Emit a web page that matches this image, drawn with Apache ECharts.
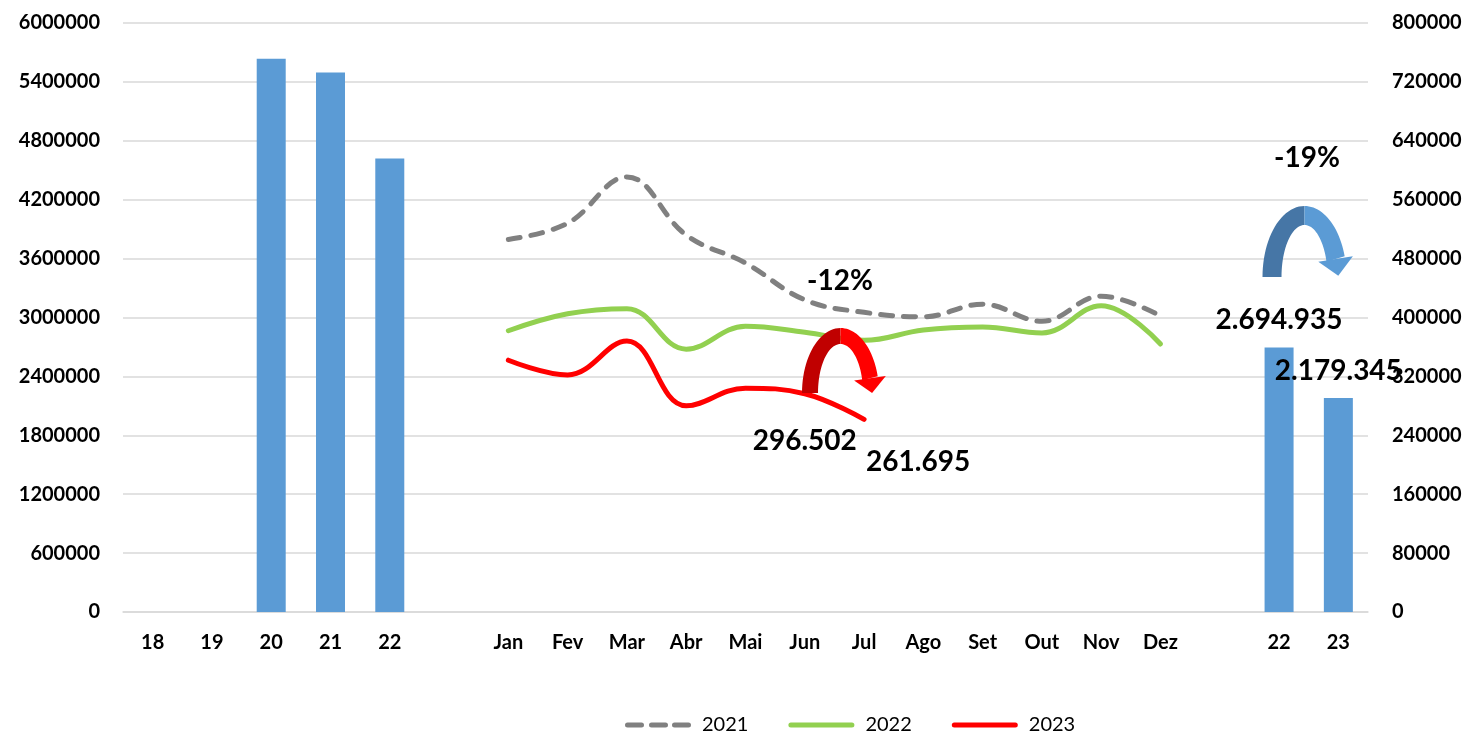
<!DOCTYPE html>
<html>
<head>
<meta charset="utf-8">
<title>Chart</title>
<script src="https://cdn.jsdelivr.net/npm/echarts@6/dist/echarts.min.js"></script>
<style>
  html, body { margin: 0; padding: 0; background: #fff; }
  #chart { width: 1470px; height: 735px; }
</style>
</head>
<body>
<div id="chart"></div>
<script>
// annual totals (left axis)
var yearCats = ['18', '19', '20', '21', '22'];
var yearTotals = [null, null, 5636000, 5495000, 4620000];

// monthly values (right axis)
var months = ['Jan', 'Fev', 'Mar', 'Abr', 'Mai', 'Jun', 'Jul', 'Ago', 'Set', 'Out', 'Nov', 'Dez'];
var s2021 = [506000, 528000, 591000, 512000, 474000, 424000, 407000, 401000, 418000, 395000, 429000, 402000];
var s2022 = [382000, 405000, 412000, 357000, 388000, 380000, 369000, 383000, 387000, 379000, 416000, 364000];
var s2023 = [342000, 322000, 368000, 280000, 304000, 296502, 261695];

// year-to-date comparison (left axis)
var compCats = ['22', '23'];
var compTotals = [2694935, 2179345];

var leftTicks = { min: 0, max: 6000000, interval: 600000 };
var rightTicks = { min: 0, max: 800000, interval: 80000 };

var FONT = 'Lato';
var dom = document.getElementById('chart');
var myChart = echarts.init(dom);

function fmtDots(v) {
    return String(v).replace(/\B(?=(\d{3})+(?!\d))/g, '.');
}
function plain(v) { return String(v); }

// category layout: years, gap, months, gap, comparison
var categories = yearCats.concat([''], months, [''], compCats);
var monthStart = yearCats.length + 1;
var compStart = monthStart + months.length + 1;

var barData = categories.map(function () { return null; });
yearTotals.forEach(function (v, i) { barData[i] = v; });
compTotals.forEach(function (v, i) {
    barData[compStart + i] = {
        value: v,
        label: {
            show: true, position: 'top', distance: 13,
            formatter: function (p) { return fmtDots(p.value); },
            fontFamily: FONT, fontWeight: 'bold', fontSize: 28, color: '#000'
        }
    };
});

function monthSeries(arr) {
    var out = categories.map(function () { return null; });
    arr.forEach(function (v, i) { out[monthStart + i] = v; });
    return out;
}

var line2023 = monthSeries(s2023);
var labelled = [[5, [0, 0], 33], [6, [54, 0], 28]];
labelled.forEach(function (l) {
    var idx = monthStart + l[0];
    line2023[idx] = {
        value: line2023[idx],
        symbol: 'circle', symbolSize: 1,
        label: {
            show: true, position: 'bottom', distance: l[2], offset: l[1],
            formatter: function (p) { return fmtDots(p.value); },
            fontFamily: FONT, fontWeight: 'bold', fontSize: 28, color: '#000'
        }
    };
});

// curved "drop" arrow built as polygons (two-tone body + head)
function arcArrow(cx, cy, rx, ry, hw, endDeg, headHw, headLen, dark, light) {
    function pt(t, dr) {
        var a = t * Math.PI / 180;
        return [cx + (rx + dr) * Math.cos(a), cy - (ry + dr) * Math.sin(a)];
    }
    function band(t0, t1) {
        var outer = [], inner = [], n = 24;
        for (var k = 0; k <= n; k++) {
            var t = t0 + (t1 - t0) * k / n;
            outer.push(pt(t, hw));
            inner.unshift(pt(t, -hw));
        }
        return outer.concat(inner);
    }
    var a = endDeg * Math.PI / 180;
    var dx = rx * Math.sin(a), dy = ry * Math.cos(a);
    var len = Math.sqrt(dx * dx + dy * dy);
    dx /= len; dy /= len;
    var b = pt(endDeg, 0);
    var head = [
        [b[0] - headHw * dy, b[1] + headHw * dx],
        [b[0] + headHw * dy, b[1] - headHw * dx],
        [b[0] + headLen * dx, b[1] + headLen * dy]
    ];
    return [
        { type: 'polygon', shape: { points: band(180, 90) }, style: { fill: dark }, z: 100 },
        { type: 'polygon', shape: { points: band(90, endDeg) }, style: { fill: light }, z: 100 },
        { type: 'polygon', shape: { points: head }, style: { fill: light }, z: 100 }
    ];
}

var graphics = []
    .concat(arcArrow(840.5, 393, 30.5, 57, 8, 15, 16, 15, '#C00000', '#FF0000'))
    .concat(arcArrow(1304.5, 277, 32.5, 61.5, 9.5, 17, 17.5, 17, '#4676A6', '#5B9BD5'))
    .concat([
        { type: 'text', x: 840, y: 281, z: 100,
          style: { text: '-12%', fontFamily: FONT, fontWeight: 'bold', fontSize: 28, fill: '#000',
                   textAlign: 'center', textVerticalAlign: 'middle' } },
        { type: 'text', x: 1307, y: 158, z: 100,
          style: { text: '-19%', fontFamily: FONT, fontWeight: 'bold', fontSize: 28, fill: '#000',
                   textAlign: 'center', textVerticalAlign: 'middle' } }
    ]);

var solidIcon = 'path://M2.5,0h61a2.5,2.5 0 0 1 0,5h-61a2.5,2.5 0 0 1 0,-5z';
var dashIcon = 'path://M2.5,0h14a2.5,2.5 0 0 1 0,5h-14a2.5,2.5 0 0 1 0,-5z' +
    'M26.5,0h14a2.5,2.5 0 0 1 0,5h-14a2.5,2.5 0 0 1 0,-5z' +
    'M49.5,0h14a2.5,2.5 0 0 1 0,5h-14a2.5,2.5 0 0 1 0,-5z';

var option = {
    animation: false,
    backgroundColor: '#fff',
    textStyle: { fontFamily: FONT },
    grid: { left: 123, right: 102, top: 23, bottom: 123, containLabel: false },
    legend: {
        data: [
            { name: '2021', icon: dashIcon },
            { name: '2022', icon: solidIcon },
            { name: '2023', icon: solidIcon }
        ],
        left: 620, top: 710,
        itemWidth: 66, itemHeight: 20, itemGap: 40,
        textStyle: { fontFamily: FONT, fontSize: 20, color: '#000', padding: [0, 0, 0, 6] }
    },
    xAxis: {
        type: 'category',
        data: categories,
        axisTick: { show: false },
        axisLine: { show: true, lineStyle: { color: '#d9d9d9', width: 1.5 } },
        axisLabel: { interval: 0, margin: 21, fontFamily: FONT, fontWeight: 'bold', fontSize: 20, color: '#000' }
    },
    yAxis: [
        {
            type: 'value',
            min: leftTicks.min, max: leftTicks.max, interval: leftTicks.interval,
            axisLine: { show: false }, axisTick: { show: false },
            splitLine: { lineStyle: { color: '#d9d9d9', width: 1.5 } },
            axisLabel: { margin: 23, formatter: plain, fontFamily: FONT, fontWeight: 'bold', fontSize: 20, color: '#000' }
        },
        {
            type: 'value',
            min: rightTicks.min, max: rightTicks.max, interval: rightTicks.interval,
            axisLine: { show: false }, axisTick: { show: false },
            splitLine: { show: false },
            axisLabel: { margin: 24, formatter: plain, fontFamily: FONT, fontWeight: 'bold', fontSize: 20, color: '#000' }
        }
    ],
    series: [
        {
            name: 'totais',
            type: 'bar',
            yAxisIndex: 0,
            barWidth: 29,
            itemStyle: { color: '#5B9BD5' },
            data: barData
        },
        {
            name: '2021',
            type: 'line',
            yAxisIndex: 1,
            smooth: 0.4,
            symbol: 'none',
            lineStyle: { color: '#808080', width: 5, type: [12, 11], cap: 'round' },
            itemStyle: { color: '#808080' },
            data: monthSeries(s2021)
        },
        {
            name: '2022',
            type: 'line',
            yAxisIndex: 1,
            smooth: 0.4,
            symbol: 'none',
            lineStyle: { color: '#92D050', width: 5, cap: 'round' },
            itemStyle: { color: '#92D050' },
            data: monthSeries(s2022)
        },
        {
            name: '2023',
            type: 'line',
            yAxisIndex: 1,
            smooth: 0.4,
            symbol: 'none',
            lineStyle: { color: '#FF0000', width: 5, cap: 'round' },
            itemStyle: { color: '#FF0000' },
            data: line2023
        }
    ],
    graphic: graphics
};

if (option && typeof option === 'object') {
    myChart.setOption(option, true);
}
</script>
</body>
</html>
